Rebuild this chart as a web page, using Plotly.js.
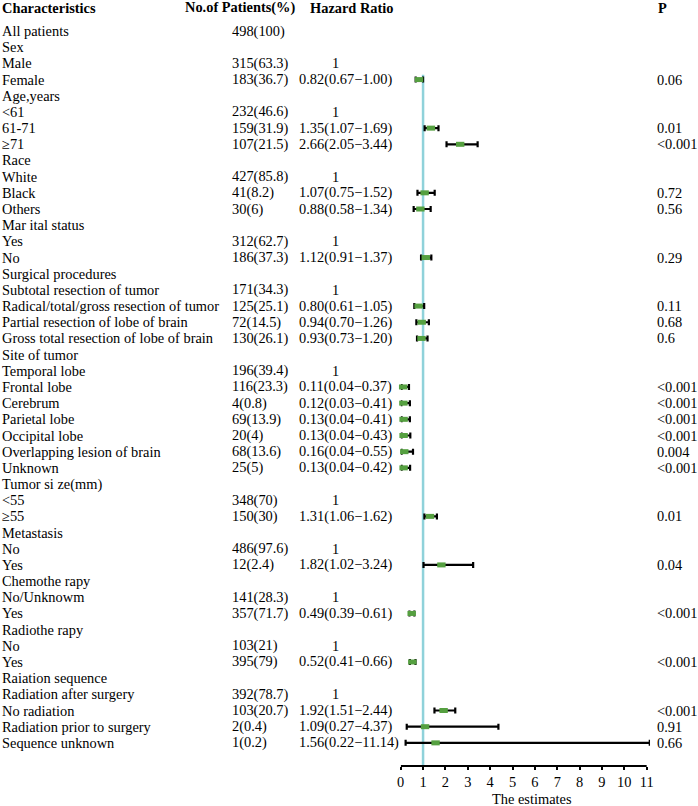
<!DOCTYPE html>
<html>
<head>
<meta charset="utf-8">
<script src="https://cdn.plot.ly/plotly-3.0.1.min.js"></script>
<style>body{margin:0;background:#fff}</style>
</head>
<body>
<div id="forest" style="width:698px;height:806px"></div>
<script>
// one entry per table row, top to bottom
var labels = ['All patients', 'Sex', 'Male', 'Female', 'Age,years', '<61', '61-71', '\u226571',
  'Race', 'White', 'Black', 'Others', 'Mar ital status', 'Yes', 'No',
  'Surgical procedures', 'Subtotal resection of tumor', 'Radical/total/gross resection of tumor',
  'Partial resection of lobe of brain', 'Gross total resection of lobe of brain',
  'Site of tumor', 'Temporal lobe', 'Frontal lobe', 'Cerebrum', 'Parietal lobe', 'Occipital lobe',
  'Overlapping lesion of brain', 'Unknown', 'Tumor si ze(mm)', '<55', '\u226555',
  'Metastasis', 'No', 'Yes', 'Chemothe rapy', 'No/Unknowm', 'Yes', 'Radiothe rapy', 'No', 'Yes',
  'Raiation sequence', 'Radiation after surgery', 'No radiation', 'Radiation prior to surgery',
  'Sequence unknown'];

var counts = ['498(100)', '', '315(63.3)', '183(36.7)', '', '232(46.6)', '159(31.9)', '107(21.5)',
  '', '427(85.8)', '41(8.2)', '30(6)', '', '312(62.7)', '186(37.3)',
  '', '171(34.3)', '125(25.1)', '72(14.5)', '130(26.1)',
  '', '196(39.4)', '116(23.3)', '4(0.8)', '69(13.9)', '20(4)', '68(13.6)', '25(5)',
  '', '348(70)', '150(30)', '', '486(97.6)', '12(2.4)', '', '141(28.3)', '357(71.7)',
  '', '103(21)', '395(79)', '', '392(78.7)', '103(20.7)', '2(0.4)', '1(0.2)'];

// hazard ratio, lower and upper CI (reference rows: est 1, no CI)
var est = [null, null, 1, 0.82, null, 1, 1.35, 2.66, null, 1, 1.07, 0.88, null, 1, 1.12,
  null, 1, 0.80, 0.94, 0.93, null, 1, 0.11, 0.12, 0.13, 0.13, 0.16, 0.13,
  null, 1, 1.31, null, 1, 1.82, null, 1, 0.49, null, 1, 0.52, null, 1, 1.92, 1.09, 1.56];
var lo = [null, null, null, 0.67, null, null, 1.07, 2.05, null, null, 0.75, 0.58, null, null, 0.91,
  null, null, 0.61, 0.70, 0.73, null, null, 0.04, 0.03, 0.04, 0.04, 0.04, 0.04,
  null, null, 1.06, null, null, 1.02, null, null, 0.39, null, null, 0.41, null, null, 1.51, 0.27, 0.22];
var hi = [null, null, null, 1.00, null, null, 1.69, 3.44, null, null, 1.52, 1.34, null, null, 1.37,
  null, null, 1.05, 1.26, 1.20, null, null, 0.37, 0.41, 0.41, 0.43, 0.55, 0.42,
  null, null, 1.62, null, null, 3.24, null, null, 0.61, null, null, 0.66, null, null, 2.44, 4.37, 11.14];

var pvals = ['', '', '', '0.06', '', '', '0.01', '<0.001', '', '', '0.72', '0.56', '', '', '0.29',
  '', '', '0.11', '0.68', '0.6', '', '', '<0.001', '<0.001', '<0.001', '<0.001', '0.004', '<0.001',
  '', '', '0.01', '', '', '0.04', '', '', '<0.001', '', '', '<0.001', '', '', '<0.001', '0.91', '0.66'];

var xticks = [0, 1, 2, 3, 4, 5, 6, 7, 8, 9, 10, 11];

var W = 698;
var font = {family: 'Liberation Serif', size: 14.4, color: '#000'};
var bold = {family: 'Liberation Serif', size: 14.4, color: '#000', weight: 'bold'};

var rows = labels.map(function (d, i) { return i + 1; });

var mx = [], my = [], eplus = [], eminus = [];
rows.forEach(function (r, i) {
  if (lo[i] !== null) {
    mx.push(est[i]); my.push(r);
    eplus.push(hi[i] - est[i]); eminus.push(est[i] - lo[i]);
  }
});

var fmt = function (v) { return v.toFixed(2); };

var annotations = [];
function txt(x, y, s, f, anchor) {
  annotations.push({xref: 'paper', yref: 'y', x: x / W, y: y, text: s, showarrow: false,
    xanchor: anchor || 'left', yanchor: 'middle', font: f || font});
}

txt(0, -0.45, 'Characteristics', bold);
txt(183, -0.45, 'No.of Patients(%)', bold);
txt(308, -0.45, 'Hazard Ratio', bold);
txt(656, -0.45, 'P', bold);

rows.forEach(function (r, i) {
  txt(0, r, labels[i]);
  if (counts[i]) txt(230, r, counts[i]);
  if (est[i] !== null) {
    if (lo[i] === null) txt(335, r, '1', font, 'center');
    else txt(297, r, fmt(est[i]) + '(' + fmt(lo[i]) + '\u2212' + fmt(hi[i]) + ')');
  }
  if (pvals[i]) txt(655, r, pvals[i]);
});

annotations.push({xref: 'paper', yref: 'paper', x: 532 / W, y: -0.0425, text: 'The estimates',
  showarrow: false, xanchor: 'center', yanchor: 'middle', font: font});

var trace = {
  x: mx, y: my, type: 'scatter', mode: 'markers',
  marker: {symbol: 'line-ew', size: 6, color: '#55a040', line: {color: '#55a040', width: 5}},
  error_x: {type: 'data', array: eplus, arrayminus: eminus, color: '#000', thickness: 2.2, width: 3},
  cliponaxis: false, hoverinfo: 'skip'
};

var x0 = 400.7, unit = 22.36, xmax = 11.15, ybot = 46.43;

var layout = {
  width: 698, height: 806,
  margin: {l: 0, r: 0, t: 0, b: 40},
  paper_bgcolor: '#fff', plot_bgcolor: '#fff',
  showlegend: false,
  font: font,
  xaxis: {
    domain: [x0 / W, (x0 + unit * xmax) / W],
    range: [0, xmax], showgrid: false, zeroline: false, showline: false,
    ticks: 'outside', ticklen: 3, tickwidth: 2, tickcolor: '#000',
    tickvals: xticks, tickfont: font
  },
  yaxis: {range: [ybot, -0.92], visible: false, showgrid: false, zeroline: false},
  shapes: [
    {type: 'line', xref: 'x', yref: 'y', x0: 1, x1: 1, y0: 3.7, y1: ybot,
      line: {color: '#8fd2da', width: 2.5}, layer: 'below'},
    {type: 'line', xref: 'x', yref: 'paper', x0: 0, x1: 11, y0: 0, y1: 0,
      line: {color: '#000', width: 2}}
  ],
  annotations: annotations
};

Plotly.newPlot('forest', [trace], layout, {displayModeBar: false, staticPlot: true});
</script>
</body>
</html>
